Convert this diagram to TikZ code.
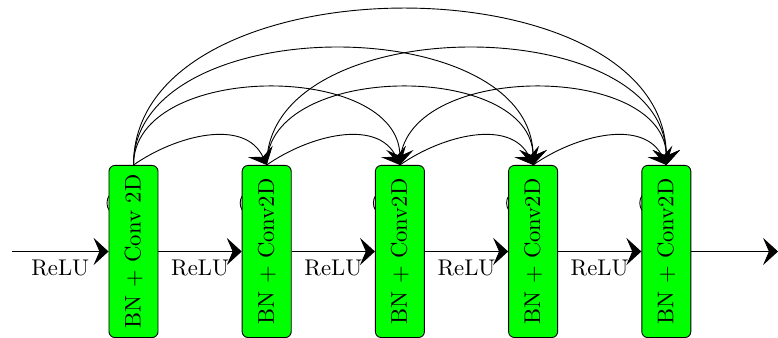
\documentclass[tikz,border=0pt]{standalone}
\usetikzlibrary{arrows.meta}
\begin{document}
\begin{tikzpicture}[x=0.4405pt,y=0.4405pt,
  blockbox/.style={draw, fill=green, rounded corners=2.6pt, rotate=90,
    minimum width=75.8pt, minimum height=21.6pt, inner sep=0pt},
  tip/.style={-{Stealth[length=6.6pt,width=12pt,inset=2.6pt]}},
  relu/.style={below, inner sep=3.33pt},
  hidarc/.style={draw}]
\useasboundingbox (0,0) rectangle (778,338);
% partly hidden arcs behind the blocks
\foreach \cx in {133.5,266.7,399.9,533.1,666.3}
  \path[hidarc] (\cx-19.5,135) ellipse [x radius=7, y radius=10];
\node[blockbox] (b1) at (133.5,86.5) {BN + Conv 2D};
\node[blockbox] (b2) at (266.7,86.5) {BN + Conv2D};
\node[blockbox] (b3) at (399.9,86.5) {BN + Conv2D};
\node[blockbox] (b4) at (533.1,86.5) {BN + Conv2D};
\node[blockbox] (b5) at (666.3,86.5) {BN + Conv2D};
\coordinate (inp) at (12,86.5);
\coordinate (outp) at (778,86.5);
% main chain (page-left = north, page-right = south, page-top = east)
\draw[tip] (inp) -- node[relu]{ReLU} (b1.north);
\draw[tip] (b1.south) -- node[relu]{ReLU} (b2.north);
\draw[tip] (b2.south) -- node[relu]{ReLU} (b3.north);
\draw[tip] (b3.south) -- node[relu]{ReLU} (b4.north);
\draw[tip] (b4.south) -- node[relu]{ReLU} (b5.north);
\draw[tip] (b5.south) -- (outp);
% dense connections
\draw[tip] (b1.east) to[out=35,in=115] (b2.east);
\draw[tip] (b2.east) to[out=35,in=115] (b3.east);
\draw[tip] (b3.east) to[out=35,in=115] (b4.east);
\draw[tip] (b4.east) to[out=35,in=115] (b5.east);
\draw[tip] (b1.east) to[out=90,in=90] (b3.east);
\draw[tip] (b2.east) to[out=90,in=90] (b4.east);
\draw[tip] (b3.east) to[out=90,in=90] (b5.east);
\draw[tip] (b1.east) to[out=90,in=90] (b4.east);
\draw[tip] (b2.east) to[out=90,in=90] (b5.east);
\draw[tip] (b1.east) to[out=90,in=90] (b5.east);
\end{tikzpicture}
\end{document}
